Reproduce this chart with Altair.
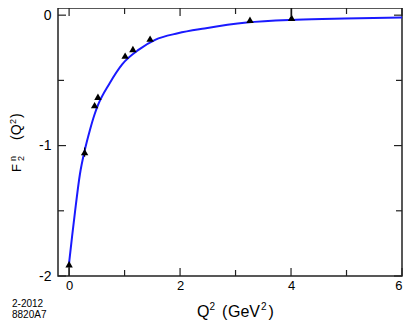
import altair as alt
import pandas as pd

# measured points (Q^2 in GeV^2, F2n)
q2_points = [0.0, 0.28, 0.46, 0.52, 1.01, 1.15, 1.46, 3.26, 4.01]
f2n_points = [-1.91, -1.05, -0.69, -0.625, -0.31, -0.26, -0.18, -0.035, -0.02]
err_hi = [0.0, 0.035, 0.0, 0.0, 0.0, 0.0, 0.0, 0.0, 0.10]
err_lo = [0.09, 0.035, 0.0, 0.0, 0.0, 0.0, 0.0, 0.0, 0.0]

# fitted curve
curve_q2 = [0.0, 0.053, 0.106, 0.195, 0.283, 0.372, 0.46, 0.52, 0.726, 0.96,
            1.257, 1.55, 1.96, 2.44, 3.2, 4.09, 4.97, 6.0]
curve_f2n = [-1.90, -1.70, -1.51, -1.22, -1.035, -0.886, -0.76, -0.69, -0.525,
             -0.375, -0.264, -0.189, -0.139, -0.102, -0.057, -0.035, -0.025, -0.017]

x_major = [0, 2, 4, 6]
x_minor = [1, 3, 5]
y_major = [0, -1, -2]
y_minor = [-0.5, -1.5]
x_domain = [-0.2, 6]
y_domain = [-2, 0.055]

W, H = 344, 268
FONT = "Liberation Sans"
FRAME = "#222222"

xs = alt.Scale(domain=x_domain, nice=False, zero=False)
ys = alt.Scale(domain=y_domain, nice=False, zero=False)

pts = pd.DataFrame({
    "q2": q2_points,
    "f": f2n_points,
    "lo": [f - e for f, e in zip(f2n_points, err_lo)],
    "hi": [f + e for f, e in zip(f2n_points, err_hi)],
})
curve = pd.DataFrame({"q2": curve_q2, "f": curve_f2n})

axes_layer = alt.Chart(pts).mark_point(opacity=0).encode(
    x=alt.X("q2:Q", scale=xs, axis=alt.Axis(
        values=x_major, title=None, ticks=False, domain=False, grid=False,
        labelFontSize=13, labelPadding=3, labelFont=FONT, labelColor="black",
        labelExpr="'' + datum.value")),
    y=alt.Y("f:Q", scale=ys, axis=alt.Axis(
        values=y_major, title=None, ticks=False, domain=False, grid=False,
        labelFontSize=14, labelPadding=7, labelFont=FONT, labelColor="black",
        labelExpr="'' + datum.value")),
)

line = alt.Chart(curve).mark_line(color="#1a1aff", strokeWidth=2,
                                  interpolate="monotone", clip=True).encode(
    x=alt.X("q2:Q", scale=xs),
    y=alt.Y("f:Q", scale=ys),
)

errs = alt.Chart(pts).mark_rule(color="black", strokeWidth=1.2, clip=True).encode(
    x=alt.X("q2:Q", scale=xs),
    y=alt.Y("lo:Q", scale=ys),
    y2="hi:Q",
)

points = alt.Chart(pts).mark_point(shape="triangle-up", filled=True, color="black",
                                   size=55, opacity=1).encode(
    x=alt.X("q2:Q", scale=xs),
    y=alt.Y("f:Q", scale=ys),
)


def xticks(vals, length, top):
    df = pd.DataFrame({"v": vals})
    if top:
        y0, y1 = 0, length
    else:
        y0, y1 = H, H - length
    return alt.Chart(df).mark_rule(color=FRAME, strokeWidth=1.2).encode(
        x=alt.X("v:Q", scale=xs), y=alt.value(y0), y2=alt.value(y1))


def yticks(vals, length, right):
    df = pd.DataFrame({"v": vals})
    if right:
        x0, x1 = W, W - length
    else:
        x0, x1 = 0, length
    return alt.Chart(df).mark_rule(color=FRAME, strokeWidth=1.2).encode(
        y=alt.Y("v:Q", scale=ys), x=alt.value(x0), x2=alt.value(x1))


ticks = [
    xticks(x_major, 8, False), xticks(x_minor, 6, False),
    xticks(x_major, 8, True), xticks(x_minor, 6, True),
    yticks(y_major, 8, False), yticks(y_minor, 6, False),
    yticks(y_major, 8, True), yticks(y_minor, 6, True),
]


def label(text, x, y, size, angle=0, align="left"):
    df = pd.DataFrame({"t": [text]})
    return alt.Chart(df).mark_text(
        font=FONT, fontSize=size, color="black", align=align,
        baseline="alphabetic", angle=angle).encode(
        text="t:N", x=alt.value(x), y=alt.value(y))


texts = [
    # y title: F with stacked n / 2, then (Q^2)
    label("F", -37.5, 164, 13, 270),
    label("n", -42.5, 153, 9, 270),
    label("2", -34, 153, 9, 270),
    label("(Q", -37.5, 132, 14, 270),
    label("2", -42, 116, 9, 270),
    label(")", -37.5, 110, 14, 270),
    # x title: Q^2  (GeV^2)
    label("Q", 139, 309, 16),
    label("2", 151.5, 302, 10),
    label("(", 164, 309, 16),
    label("GeV", 170, 309, 16),
    label("2", 203, 302, 10),
    label(")", 210.5, 309, 16),
    # stamp
    label("2-2012", -46, 299, 10),
    label("8820A7", -46, 310, 10),
]

chart = alt.layer(axes_layer, line, errs, points, *ticks, *texts).properties(
    width=W, height=H,
    autosize=alt.AutoSizeParams(type="none"),
    padding={"left": 50, "top": 0, "right": 4, "bottom": 44},
).configure_view(stroke=FRAME, strokeWidth=1.5)

chart.save("out.html", embed_options={"renderer": "svg", "actions": False})
